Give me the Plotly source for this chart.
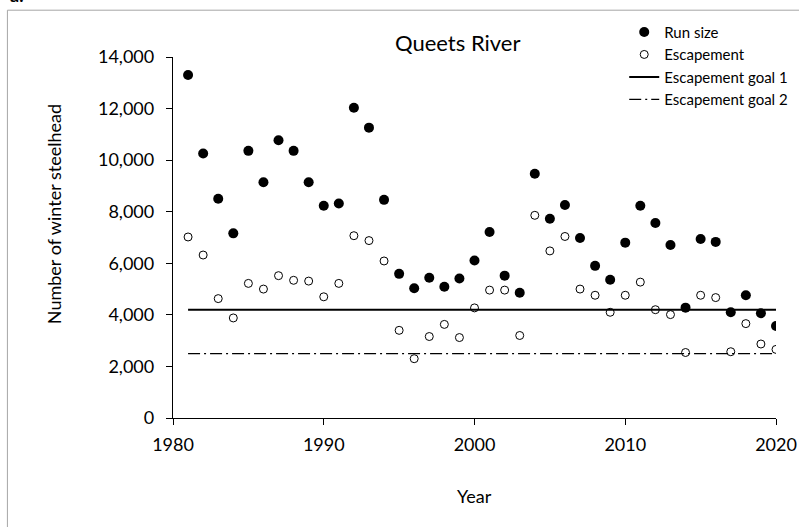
import plotly.graph_objects as go

years = list(range(1981, 2021))
run_size = [13300, 10260, 8500, 7160, 10360, 9140, 10770, 10360, 9140, 8230, 8320,
            12030, 11260, 8460, 5590, 5030, 5440, 5090, 5410, 6110, 7210, 5520, 4860,
            9470, 7730, 8260,
            6980, 5900, 5360, 6800, 8230, 7560, 6710, 4280, 6940, 6830, 4100, 4760,
            4060, 3570]
escapement = [7020, 6320, 4630, 3880, 5220, 5000, 5520, 5340, 5310, 4700, 5220,
              7070, 6880, 6090, 3400, 2300, 3160, 3630, 3120, 4270, 4960, 4960, 3200,
              7860, 6480, 7040,
              5000, 4760, 4100, 4760, 5270, 4200, 4010, 2540, 4760, 4670, 2570, 3660,
              2870, 2660]
goal_years = [1981, 2020]
goal1 = [4200, 4200]
goal2 = [2500, 2500]

FONT = "Lato, 'Open Sans', sans-serif"

fig = go.Figure()
fig.add_trace(go.Scatter(x=years, y=run_size, mode="markers", name="Run size",
                         marker=dict(color="black", size=10, line=dict(width=0))))
fig.add_trace(go.Scatter(x=years, y=escapement, mode="markers", name="Escapement",
                         marker=dict(color="white", size=8, line=dict(color="black", width=1))))
fig.add_trace(go.Scatter(x=goal_years, y=goal1, mode="lines", name="Escapement goal 1",
                         line=dict(color="black", width=2)))
fig.add_trace(go.Scatter(x=goal_years, y=goal2, mode="lines", name="Escapement goal 2",
                         line=dict(color="black", width=1.2, dash="12px,4px,2px,4px")))

L, R, T, B = 173, 23.3, 57.3, 108.7
W, H = 799, 527
pw, ph = W - L - R, H - T - B

def px(xp):
    return (xp - L) / pw

def py(yp):
    return (H - B - yp) / ph

fig.update_layout(
    width=W, height=H,
    margin=dict(l=L, r=R, t=T, b=B, autoexpand=False),
    paper_bgcolor="white", plot_bgcolor="white",
    font=dict(family=FONT, size=18, color="black"),
    showlegend=True,
    legend=dict(x=px(624), y=py(16), xanchor="left", yanchor="top",
                font=dict(family=FONT, size=15, color="black"),
                bgcolor="rgba(0,0,0,0)", tracegroupgap=0, traceorder="normal"),
    xaxis=dict(range=[1980, 2020], tickvals=[1980, 1990, 2000, 2010, 2020],
               showgrid=False, zeroline=False, showline=True, linecolor="black", linewidth=1.3,
               ticks="outside", ticklen=6, tickwidth=1.3, tickcolor="black",
               tickfont=dict(family=FONT, size=18), ticklabelstandoff=4),
    yaxis=dict(range=[0, 14000], tickvals=list(range(0, 14001, 2000)),
               tickformat=",d",
               showgrid=False, zeroline=False, showline=True, linecolor="black", linewidth=1.3,
               ticks="outside", ticklen=6, tickwidth=1.3, tickcolor="black",
               tickfont=dict(family=FONT, size=18), ticklabelstandoff=8),
    shapes=[dict(type="rect", xref="paper", yref="paper",
                 x0=px(7.5), x1=px(820), y0=py(560), y1=py(10.5),
                 line=dict(color="#a6a6a6", width=1), fillcolor="rgba(0,0,0,0)", layer="below")],
    annotations=[
        dict(text="Queets River", xref="paper", yref="paper", x=px(458), y=py(43),
             xanchor="center", yanchor="middle", showarrow=False,
             font=dict(family=FONT, size=22, color="black")),
        dict(text="Number of winter steelhead", xref="paper", yref="paper",
             x=px(53.5), y=py(214), xanchor="center", yanchor="middle", textangle=-90,
             showarrow=False, font=dict(family=FONT, size=18, color="black")),
        dict(text="Year", xref="paper", yref="paper", x=px(474), y=py(496),
             xanchor="center", yanchor="middle", showarrow=False,
             font=dict(family=FONT, size=18, color="black")),
        dict(text="<b>a.</b>", xref="paper", yref="paper", x=px(8), y=py(8),
             xanchor="left", yanchor="bottom", showarrow=False,
             font=dict(family=FONT, size=18, color="black")),
    ],
)

fig.for_each_trace(lambda t: t.update(legendgroup=t.name))
fig.write_html("out.html")
